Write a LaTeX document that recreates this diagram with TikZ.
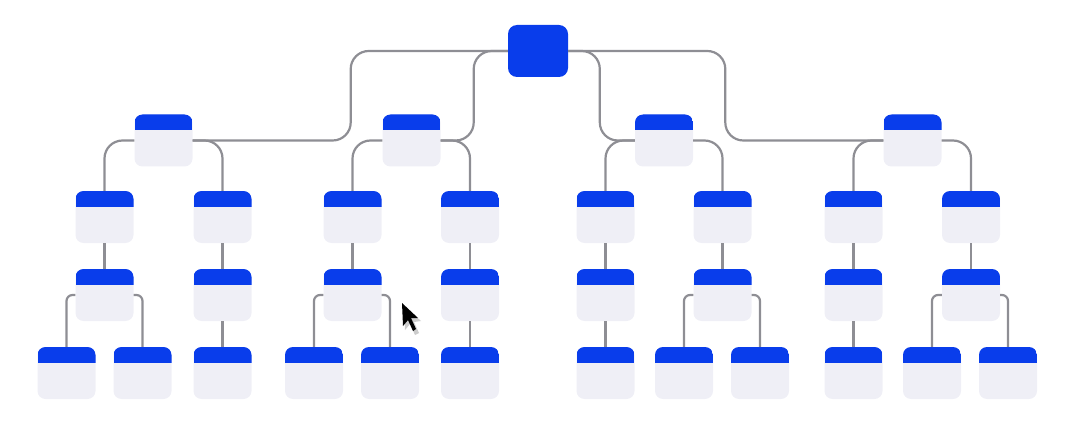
\documentclass[tikz,border=0pt]{standalone}
\usepackage{tikz}
\usetikzlibrary{calc}
\definecolor{cardblue}{RGB}{9,61,235}
\definecolor{cardgray}{RGB}{239,239,246}
\definecolor{linkgray}{RGB}{142,142,148}
\tikzset{
  card/.style={rectangle, inner sep=0pt, minimum width=58pt, minimum height=52pt,
    rounded corners=8pt, fill=cardgray,
    path picture={\fill[cardblue, sharp corners] (path picture bounding box.north west) rectangle ([yshift=-16pt]path picture bounding box.north east);}},
  rootcard/.style={rectangle, inner sep=0pt, minimum width=60pt, minimum height=52pt,
    rounded corners=9pt, fill=cardblue},
  link/.style={draw=linkgray, line width=2.2pt},
}
\begin{document}
\begin{tikzpicture}[x=1pt, y=-1pt]
			%%%%% START %%%%%
			\useasboundingbox (0, 0) rectangle (1073, 422);
			
			\node[rootcard] (root) at (538, 51) {};
			
			\node[card] (a) at (163.5, 140.5) {};
			\node[card] (b) at (411.5, 140.5) {};
			\node[card] (c) at (664, 140.5) {};
			\node[card] (d) at (912.5, 140.5) {};
			
			\node[card] (a1) at (104.5, 217) {};
			\node[card] (a2) at (222.5, 217) {};
			\node[card] (b1) at (352.5, 217) {};
			\node[card] (b2) at (470, 217) {};
			\node[card] (c1) at (605.5, 217) {};
			\node[card] (c2) at (722.5, 217) {};
			\node[card] (d1) at (853.5, 217) {};
			\node[card] (d2) at (971, 217) {};
			
			\node[card] (a1s) at (104.5, 295) {};
			\node[card] (a2s) at (222.5, 295) {};
			\node[card] (b1s) at (352.5, 295) {};
			\node[card] (b2s) at (470, 295) {};
			\node[card] (c1s) at (605.5, 295) {};
			\node[card] (c2s) at (722.5, 295) {};
			\node[card] (d1s) at (853.5, 295) {};
			\node[card] (d2s) at (971, 295) {};
			
			\node[card] (a1sl) at (66.5, 373) {};
			\node[card] (a1sr) at (142.5, 373) {};
			\node[card] (a2ss) at (222.5, 373) {};
			\node[card] (b1sl) at (314, 373) {};
			\node[card] (b1sr) at (390, 373) {};
			\node[card] (b2ss) at (470, 373) {};
			\node[card] (c1ss) at (605.5, 373) {};
			\node[card] (c2sl) at (684, 373) {};
			\node[card] (c2sr) at (760, 373) {};
			\node[card] (d1ss) at (853.5, 373) {};
			\node[card] (d2sl) at (932, 373) {};
			\node[card] (d2sr) at (1008, 373) {};
			
			% root to first row
			\draw[link, rounded corners=18pt] (root.west) -| ([xshift=158pt]a.east) -- (a.east);
			\draw[link, rounded corners=18pt] (root.west) -| ([xshift=33pt]b.east) -- (b.east);
			\draw[link, rounded corners=18pt] (root.east) -| ([xshift=-35pt]c.west) -- (c.west);
			\draw[link, rounded corners=18pt] (root.east) -| ([xshift=-158pt]d.west) -- (d.west);
			
			% first row to second row
			\draw[link, rounded corners=18pt] (a.west) -| (a1.north);
			\draw[link, rounded corners=18pt] (a.east) -| (a2.north);
			\draw[link, rounded corners=18pt] (b.west) -| (b1.north);
			\draw[link, rounded corners=18pt] (b.east) -| (b2.north);
			\draw[link, rounded corners=18pt] (c.west) -| (c1.north);
			\draw[link, rounded corners=18pt] (c.east) -| (c2.north);
			\draw[link, rounded corners=18pt] (d.west) -| (d1.north);
			\draw[link, rounded corners=18pt] (d.east) -| (d2.north);
			
			% second row to third row
			\draw[link] (a1.south) -- (a1s.north);
			\draw[link] (a2.south) -- (a2s.north);
			\draw[link] (b1.south) -- (b1s.north);
			\draw[link] (b2.south) -- (b2s.north);
			\draw[link] (c1.south) -- (c1s.north);
			\draw[link] (c2.south) -- (c2s.north);
			\draw[link] (d1.south) -- (d1s.north);
			\draw[link] (d2.south) -- (d2s.north);
			
			% third row to leaves
			\draw[link, rounded corners=6pt] (a1s.west) -| (a1sl.north);
			\draw[link, rounded corners=6pt] (a1s.east) -| (a1sr.north);
			\draw[link] (a2s.south) -- (a2ss.north);
			\draw[link, rounded corners=6pt] (b1s.west) -| (b1sl.north);
			\draw[link, rounded corners=6pt] (b1s.east) -| (b1sr.north);
			\draw[link] (b2s.south) -- (b2ss.north);
			\draw[link] (c1s.south) -- (c1ss.north);
			\draw[link, rounded corners=6pt] (c2s.west) -| (c2sl.north);
			\draw[link, rounded corners=6pt] (c2s.east) -| (c2sr.north);
			\draw[link] (d1s.south) -- (d1ss.north);
			\draw[link, rounded corners=6pt] (d2s.west) -| (d2sl.north);
			\draw[link, rounded corners=6pt] (d2s.east) -| (d2sr.north);
			
			% cursor
			\fill[black, opacity=0.2] (404, 306) -- (405, 330) -- (410, 324) -- (415, 335) -- (419, 333) -- (414, 322) -- (421, 321) -- cycle;
			\fill[black] (402, 303) -- (403, 326) -- (408, 320) -- (413, 331) -- (416, 329) -- (411, 318) -- (418, 318) -- cycle;
			
			%%%%% END %%%%%
\end{tikzpicture}
\end{document}
